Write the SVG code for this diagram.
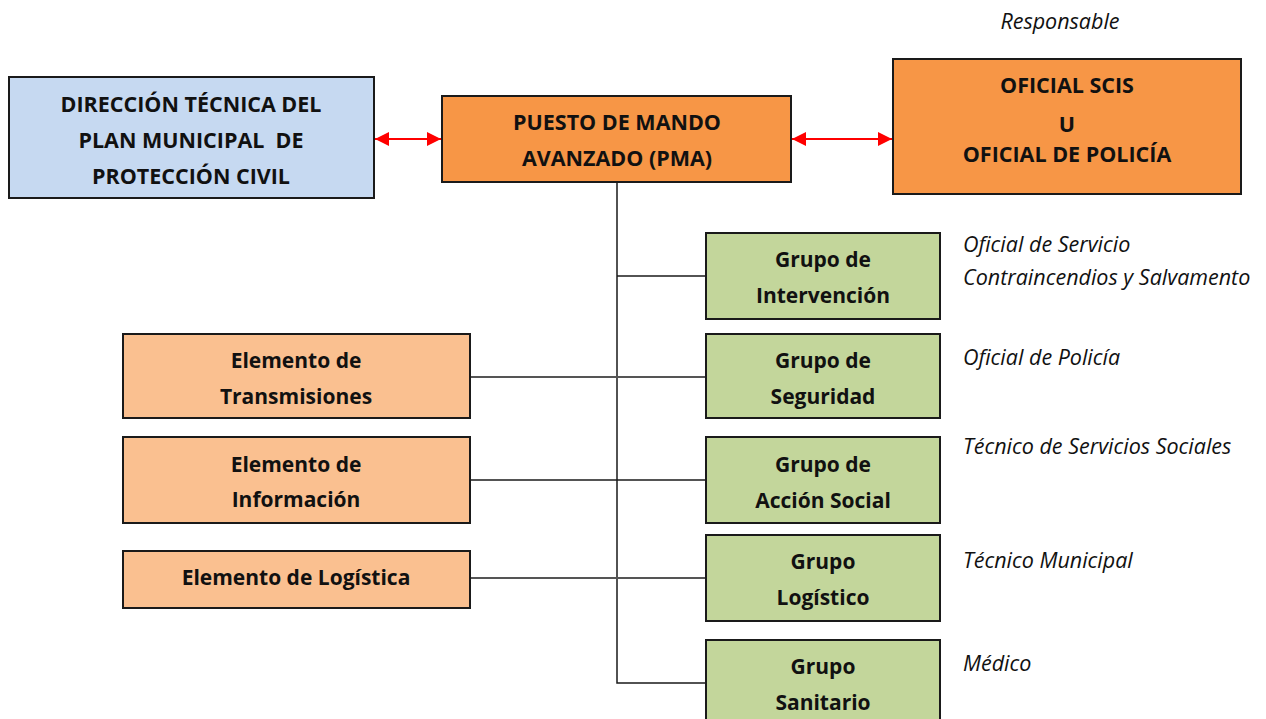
<svg xmlns="http://www.w3.org/2000/svg" width="1266" height="719" viewBox="0 0 1266 719">
<style>
.box{stroke:#1a1a1a;stroke-width:2}
.blue{fill:#c6d9f1}
.org{fill:#f79646}
.lorg{fill:#fac090}
.grn{fill:#c3d69b}
.t{font-family:"Open Sans",Lato,sans-serif;font-weight:bold;font-size:21.5px;fill:#111;text-anchor:middle}
.m{font-size:21px}
.i{font-family:"Open Sans",Lato,sans-serif;font-style:italic;font-size:21.5px;fill:#111}
.ln{stroke:#1a1a1a;stroke-width:1.5;fill:none}
.lg{stroke:#555;stroke-width:2;fill:none}
.red{stroke:#ff0000;stroke-width:2;fill:none}
</style>
<defs>
<marker id="ah" viewBox="0 0 10 10" refX="10" refY="5" markerWidth="7.5" markerHeight="7" orient="auto-start-reverse" markerUnits="strokeWidth">
<path d="M0,0 L10,5 L0,10 z" fill="#ff0000"/>
</marker>
</defs>
<rect width="1266" height="719" fill="#ffffff"/>
<g id="connectors">
<line class="red" x1="375" y1="139" x2="441" y2="139" marker-start="url(#ah)" marker-end="url(#ah)"/>
<line class="red" x1="792" y1="139" x2="892" y2="139" marker-start="url(#ah)" marker-end="url(#ah)"/>
<polyline class="ln" points="617,182 617,683 706,683"/>
<line class="ln" x1="617" y1="276" x2="706" y2="276"/>
<line class="lg" x1="470" y1="377" x2="706" y2="377"/>
<line class="ln" x1="470" y1="480" x2="706" y2="480"/>
<line class="lg" x1="470" y1="578" x2="706" y2="578"/>
</g>
<g id="responsable"><text class="i" x="1060" y="29" text-anchor="middle">Responsable</text></g>
<g id="direccion">
<rect class="box blue" x="9" y="77" width="365" height="121"/>
<text class="t" x="191" y="112">DIRECCIÓN TÉCNICA DEL</text>
<text class="t" x="191" y="148" xml:space="preserve" style="white-space:pre">PLAN MUNICIPAL  DE</text>
<text class="t" x="191" y="184">PROTECCIÓN CIVIL</text>
</g>
<g id="pma">
<rect class="box org" x="442" y="96" width="349" height="86"/>
<text class="t" x="617" y="130">PUESTO DE MANDO</text>
<text class="t" x="617" y="166">AVANZADO (PMA)</text>
</g>
<g id="oficial">
<rect class="box org" x="893" y="59" width="348" height="135"/>
<text class="t" x="1067" y="93">OFICIAL SCIS</text>
<text class="t" x="1067" y="132">U</text>
<text class="t" x="1067" y="162">OFICIAL DE POLICÍA</text>
</g>
<g id="g-intervencion">
<rect class="box grn" x="706" y="233" width="234" height="86"/>
<text class="t m" x="823" y="267">Grupo de</text>
<text class="t m" x="823" y="303">Intervención</text>
</g>
<g id="g-seguridad">
<rect class="box grn" x="706" y="334" width="234" height="84"/>
<text class="t m" x="823" y="368">Grupo de</text>
<text class="t m" x="823" y="404">Seguridad</text>
</g>
<g id="g-accion">
<rect class="box grn" x="706" y="437" width="234" height="86"/>
<text class="t m" x="823" y="472">Grupo de</text>
<text class="t m" x="823" y="508">Acción Social</text>
</g>
<g id="g-logistico">
<rect class="box grn" x="706" y="535" width="234" height="86"/>
<text class="t m" x="823" y="569">Grupo</text>
<text class="t m" x="823" y="605">Logístico</text>
</g>
<g id="g-sanitario">
<rect class="box grn" x="706" y="640" width="234" height="90"/>
<text class="t m" x="823" y="674">Grupo</text>
<text class="t m" x="823" y="710">Sanitario</text>
</g>
<g id="e-transmisiones">
<rect class="box lorg" x="123" y="334" width="347" height="84"/>
<text class="t m" x="296" y="368">Elemento de</text>
<text class="t m" x="296" y="404">Transmisiones</text>
</g>
<g id="e-informacion">
<rect class="box lorg" x="123" y="437" width="347" height="86"/>
<text class="t m" x="296" y="472">Elemento de</text>
<text class="t m" x="296" y="507">Información</text>
</g>
<g id="e-logistica">
<rect class="box lorg" x="123" y="551" width="347" height="57"/>
<text class="t m" x="296" y="585">Elemento de Logística</text>
</g>
<g id="responsables">
<text class="i" x="963" y="252">Oficial de Servicio</text>
<text class="i" x="963" y="285">Contraincendios y Salvamento</text>
<text class="i" x="963" y="365">Oficial de Policía</text>
<text class="i" x="963" y="454">Técnico de Servicios Sociales</text>
<text class="i" x="963" y="568">Técnico Municipal</text>
<text class="i" x="963" y="671">Médico</text>
</g>
</svg>
